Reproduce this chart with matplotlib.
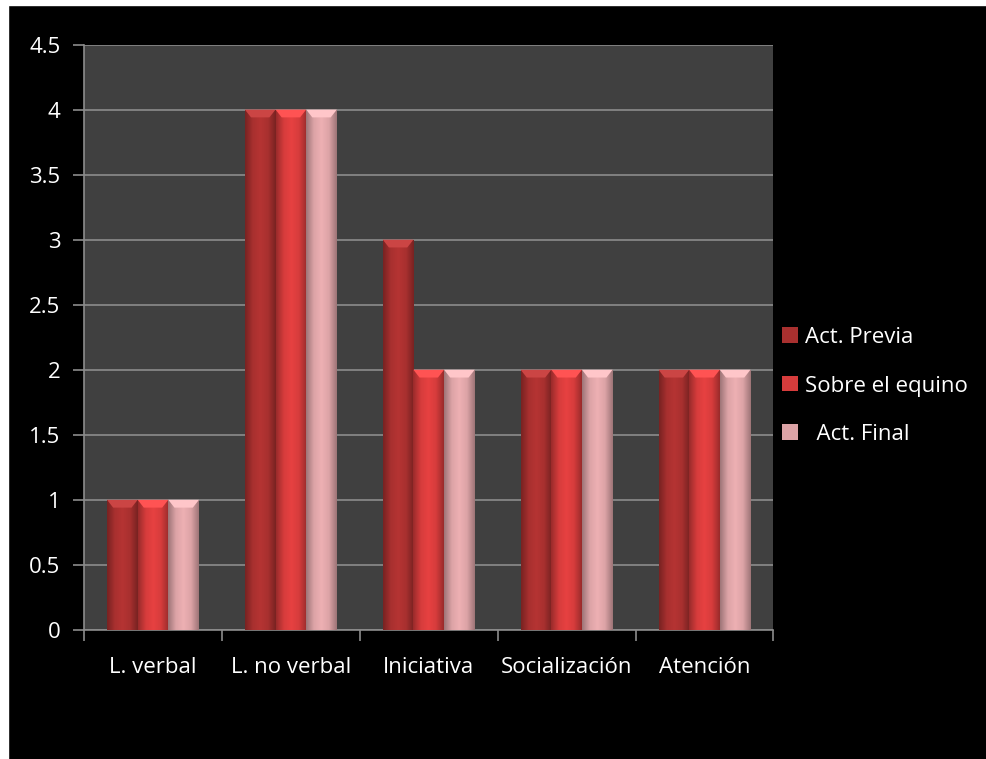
import numpy as np
import matplotlib
matplotlib.use("Agg")
import matplotlib.pyplot as plt
from matplotlib.patches import Rectangle
from matplotlib.colors import LinearSegmentedColormap, to_rgb

# datos
categorias = ["L. verbal", "L. no verbal", "Iniciativa", "Socialización", "Atención"]
act_previa = [1, 4, 3, 2, 2]
sobre_equino = [1, 4, 2, 2, 2]
act_final = [1, 4, 2, 2, 2]
series = ["Act. Previa", "Sobre el equino", "  Act. Final"]
colores = ["#a8302f", "#d63c3c", "#dca3a6"]

plt.rcParams['font.family'] = ['Open Sans', 'DejaVu Sans']

fig = plt.figure(figsize=(9.865, 7.595), dpi=100, facecolor="black")
# borde blanco arriba e izquierda
fig.patches.append(Rectangle((0, 1 - 5 / 759), 1, 5 / 759, transform=fig.transFigure,
                             color="white", zorder=0))
fig.patches.append(Rectangle((0, 0), 8 / 986, 1, transform=fig.transFigure,
                             color="white", zorder=0))

ax = fig.add_axes([0.0852, 0.170, 0.6988, 0.7707])
ax.set_facecolor("#404040")

x = np.arange(len(categorias))
w = 1 / 4.5
valores = [act_previa, sobre_equino, act_final]


def sombreado(c):
    r, g, b = to_rgb(c)
    oscuro = (r * 0.72, g * 0.72, b * 0.72)
    claro = (min(1, r * 1.08), min(1, g * 1.08), min(1, b * 1.08))
    return LinearSegmentedColormap.from_list("s", [oscuro, c, claro, c, oscuro])


for i, (vals, col) in enumerate(zip(valores, colores)):
    barras = ax.bar(x + (i - 1) * w, vals, width=w, color=col, zorder=2, label=series[i])
    cmap = sombreado(col)
    grad = np.linspace(0, 1, 64).reshape(1, -1)
    for b in barras:
        x0, ancho, alto = b.get_x(), b.get_width(), b.get_height()
        im = ax.imshow(grad, extent=[x0, x0 + ancho, 0, alto], aspect="auto",
                       cmap=cmap, zorder=3, interpolation="bilinear")
        im.set_clip_path(b)
        # bisel superior
        r, g, bb = to_rgb(col)
        tope = (min(1, r * 1.12 + 0.06), min(1, g * 1.12 + 0.06), min(1, bb * 1.12 + 0.06))
        ax.fill([x0, x0 + ancho, x0 + ancho * 0.8, x0 + ancho * 0.2],
                [alto, alto, alto - 0.06, alto - 0.06], color=tope, zorder=4, lw=0)

ax.set_xlim(-0.5, len(categorias) - 0.5)
ax.set_ylim(0, 4.5)
ax.set_yticks(np.arange(0, 4.51, 0.5))
ax.set_yticklabels(["0", "0.5", "1", "1.5", "2", "2.5", "3", "3.5", "4", "4.5"])
ax.set_xticks(x)
ax.set_xticklabels(categorias)
ax.set_xticks(np.arange(-0.5, len(categorias), 1), minor=True)

ax.grid(axis="y", color="#8c8c8c", lw=1.2, zorder=1)
ax.tick_params(axis="y", colors="#8c8c8c", length=8, width=1.2, labelcolor="white",
               labelsize=16, pad=9)
ax.tick_params(axis="x", which="major", length=0, labelcolor="white", labelsize=16, pad=19)
ax.tick_params(axis="x", which="minor", length=8, width=1.2, colors="#8c8c8c")
for s in ["top", "right"]:
    ax.spines[s].set_visible(False)
for s in ["left", "bottom"]:
    ax.spines[s].set_color("#8c8c8c")
    ax.spines[s].set_linewidth(1.2)

leg = ax.legend(loc="center left", bbox_to_anchor=(1.0, 0.417), frameon=False,
                fontsize=16, labelcolor="white", handlelength=0.7, handleheight=0.7,
                handletextpad=0.3, labelspacing=1.24, borderaxespad=0.0)

fig.savefig("out.png", dpi=100, facecolor="black")
